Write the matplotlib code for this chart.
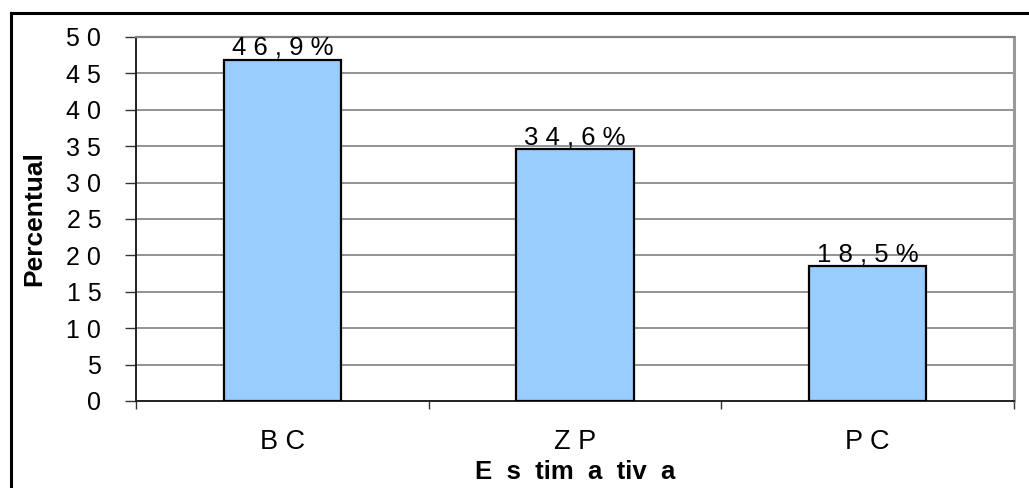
import matplotlib.pyplot as plt
from matplotlib.lines import Line2D

# dados
categorias = ['B C', 'Z P', 'P C']
percentuais = [46.9, 34.6, 18.5]
rotulos = ['4 6 , 9 %', '3 4 , 6 %', '1 8 , 5 %']
yticks = list(range(0, 51, 5))
ytick_labels = [' '.join(str(v)) for v in yticks]

plt.rcParams['font.family'] = ['Liberation Sans', 'DejaVu Sans']

fig = plt.figure(figsize=(10.29, 4.88), dpi=100)
ax = fig.add_axes([136 / 1029, 1 - 401 / 488, (1014 - 136) / 1029, (401 - 37) / 488])

x = list(range(len(categorias)))
ax.bar(x, percentuais, width=0.4, color='#99CCFF', edgecolor='black', linewidth=1.6, zorder=3)

# rotulos de valor
for xi, v, r in zip(x, percentuais, rotulos):
    ax.annotate(r, (xi, v), xytext=(0, 0), textcoords='offset points',
                ha='center', va='bottom', fontsize=18.5, zorder=4)

ax.set_xlim(-0.5, 2.5)
ax.set_ylim(0, 50)
ax.set_yticks(yticks)
ax.set_yticklabels(ytick_labels, fontsize=18)
ax.set_xticks(x)
ax.set_xticklabels(categorias, fontsize=19.5)
ax.set_xticks([-0.5, 0.5, 1.5, 2.5], minor=True)
ax.tick_params(axis='x', which='major', length=0, pad=20)
ax.tick_params(axis='x', which='minor', length=6, width=1, color='#333333')
ax.tick_params(axis='y', length=8, width=1, color='#333333', pad=17)

# grade
ax.yaxis.grid(True, color='#808080', linewidth=1.2, zorder=0)
ax.set_axisbelow(True)

for s in ['left', 'bottom']:
    ax.spines[s].set_color('#222222')
    ax.spines[s].set_linewidth(1.4)
ax.spines['top'].set_color('#808080')
ax.spines['top'].set_linewidth(1.6)
ax.spines['right'].set_color('#999999')
ax.spines['right'].set_linewidth(2.2)

ax.set_ylabel('Percentual', fontsize=19, fontweight='bold')
ax.set_xlabel('E  s  tim  a  tiv  a', fontsize=18.5, fontweight='bold')
ax.yaxis.label.set_va('center')
ax.xaxis.label.set_va('center')
ax.yaxis.set_label_coords((34 - 136) / 878, 0.5)
ax.xaxis.set_label_coords(0.5, -(472 - 401) / 364)

# moldura externa
fig.add_artist(Line2D([11 / 1029, 1.0], [1 - 13 / 488] * 2, color='black', linewidth=2.2))
fig.add_artist(Line2D([11 / 1029] * 2, [0.0, 1 - 13 / 488], color='black', linewidth=2.2))

fig.savefig('out.png', dpi=100)
